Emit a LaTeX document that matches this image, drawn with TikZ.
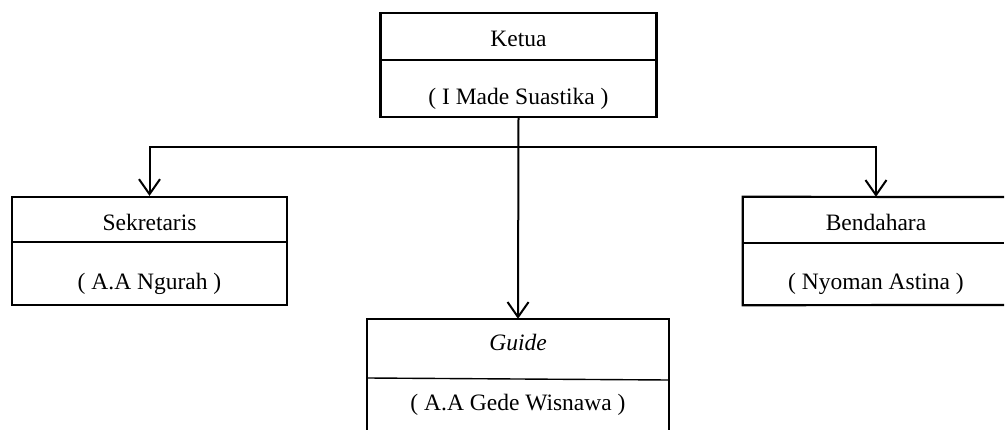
\documentclass[tikz,border=0pt]{standalone}
\usepackage{fontspec}
\setmainfont{Liberation Serif}
\usetikzlibrary{arrows.meta}
\begin{document}
\begin{tikzpicture}[x=1pt,y=-1pt,
  box/.style={draw, line width=2.2pt, rectangle, inner sep=0pt},
  openbox/.style={rectangle, inner sep=0pt},
  edge/.style={line width=2.2pt},
  lbl/.style={font=\fontsize{23.5}{28}\selectfont, inner sep=0pt, anchor=base},
  divider/.style={line width=1.4pt},
  arr/.style={line width=2pt, -{Straight Barb[length=15pt,width=21pt,line width=2pt]}}]
\useasboundingbox (0,0) rectangle (1005,430);
% Ketua
\node[box, minimum width=276pt, minimum height=104pt] (ketua) at (518.5,65) {};
\draw[divider] (381,60) -- (656,60);
\node[lbl] (ketuaT) at (518.5,47) {Ketua};
\node[lbl] (ketuaN) at (518.5,105) {( I Made Suastika )};
% Sekretaris
\node[box, minimum width=275pt, minimum height=108pt] (sek) at (149.5,251) {};
\draw[divider] (12,242) -- (287,242);
\node[lbl] (sekT) at (149.5,231) {Sekretaris};
\node[lbl] (sekN) at (149.5,290) {( A.A Ngurah )};
% Bendahara (runs past the right edge: no right side)
\node[openbox, minimum width=266pt, minimum height=108pt] (ben) at (876,251) {};
\draw[edge] (1004,197) -- (ben.north west) -- (ben.south west) -- (1004,305);
\draw[divider] (743,243) -- (1004,243);
\node[lbl] (benT) at (876,231) {Bendahara};
\node[lbl] (benN) at (876,290) {( Nyoman Astina )};
% Guide (runs past the bottom edge: no bottom side)
\node[openbox, minimum width=301pt, minimum height=112pt] (guide) at (518,375) {};
\draw[edge] (guide.south west) -- (guide.north west) -- (guide.north east) -- (guide.south east);
\draw[divider] (367,378) -- (668,380);
\node[lbl] (guideT) at (518,351) {\itshape Guide};
\node[lbl] (guideN) at (518,411) {( A.A Gede Wisnawa )};
% connectors
\coordinate (j) at (518,147);
\draw[arr] (ketua.south) -- (guide.north);
\draw[arr] (j) -| (sek.north);
\draw[arr] (j) -| (ben.north);
\end{tikzpicture}
\end{document}
